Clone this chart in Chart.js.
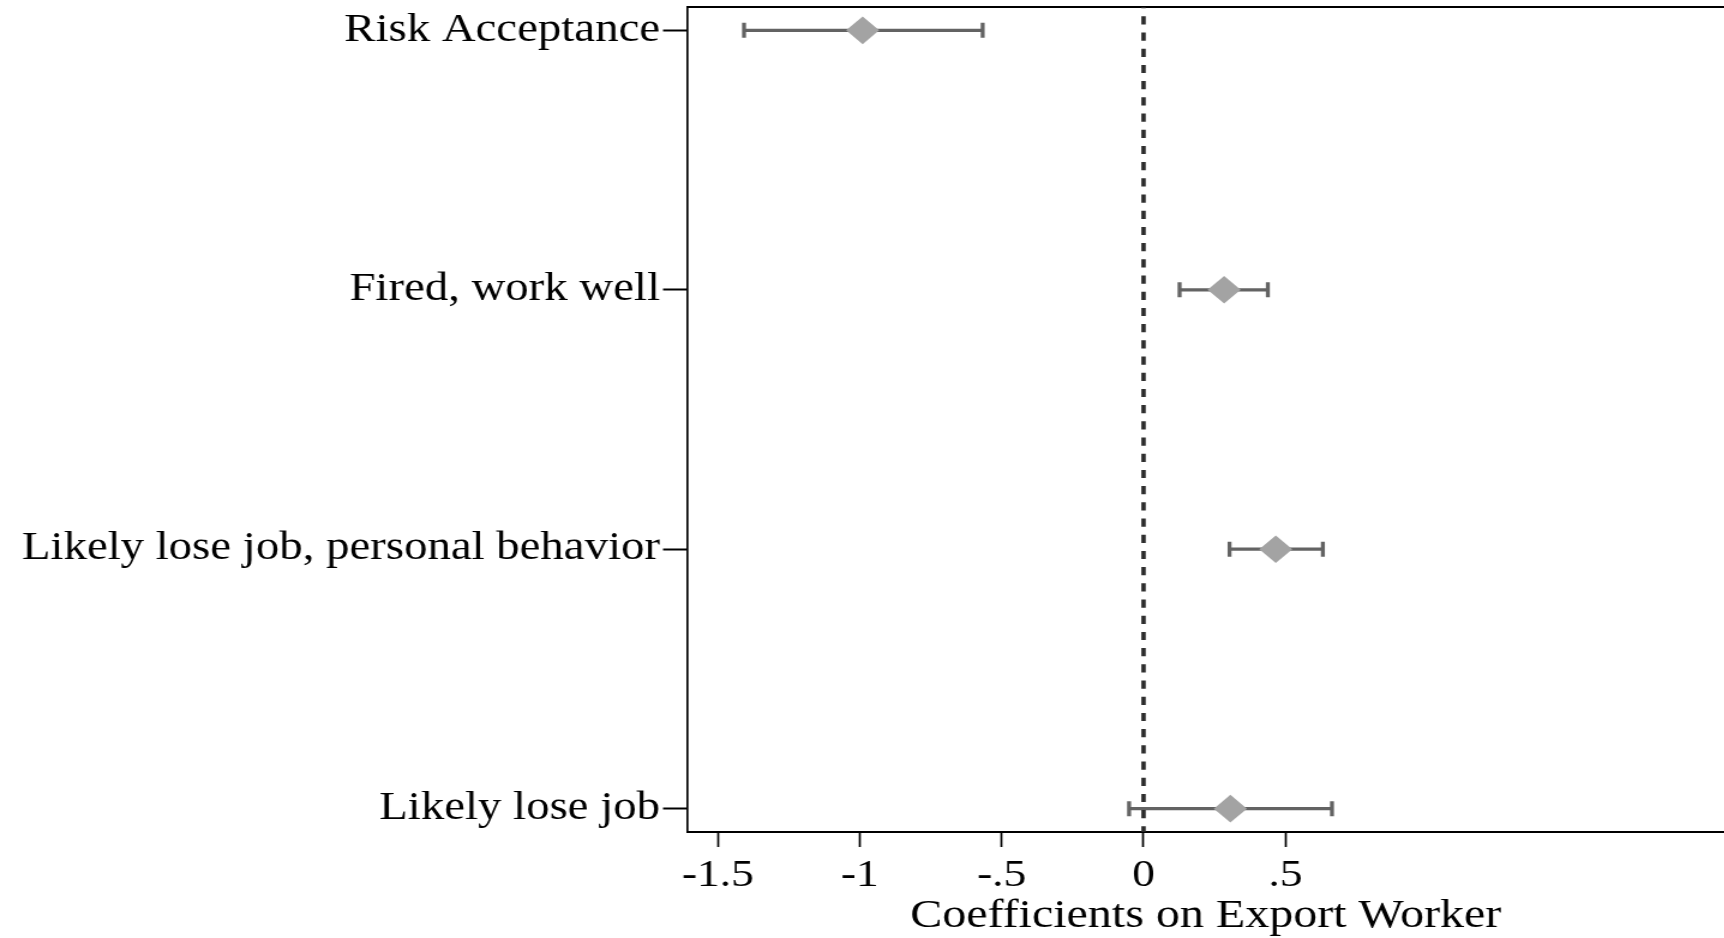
<!DOCTYPE html>
<html>
<head>
<meta charset="utf-8">
<script src="https://cdn.jsdelivr.net/npm/chart.js@4.4.1/dist/chart.umd.min.js"></script>
<style>
  html, body { margin: 0; padding: 0; background: #ffffff; overflow: hidden; }
  #wrap { width: 1437px; height: 938px; transform: scaleX(1.2); transform-origin: 0 0; }
  canvas { display: block; }
</style>
</head>
<body>
<div id="wrap"><canvas id="c" width="1437" height="938"></canvas></div>
<script>
const categories = ['Risk Acceptance', 'Fired, work well', 'Likely lose job, personal behavior', 'Likely lose job'];
const rowPos = [1, 2, 3, 4];
const coef = [-0.99, 0.284, 0.466, 0.306];
const lower = [-1.408, 0.127, 0.303, -0.051];
const upper = [-0.567, 0.438, 0.632, 0.664];
const tickValues = [-1.5, -1, -0.5, 0, 0.5];
const tickLabels = ['-1.5', '-1', '-.5', '0', '.5'];
const xMin = -1.609, xMax = 2.047;
const yMin = 0.91, yMax = 4.09;
const refValue = 0;
const axisTitle = 'Coefficients on Export Worker';

const FONT = '"Liberation Serif", "Times New Roman", serif';
const barColor = '#636363';
const markerColor = '#a3a3a3';

const datasets = [];
// diamonds (drawn on top)
datasets.push({
  type: 'scatter',
  data: coef.map((v, i) => ({ x: v, y: rowPos[i] })),
  pointStyle: 'rectRot',
  pointRadius: 13.8,
  pointBackgroundColor: markerColor,
  pointBorderWidth: 0,
  showLine: false
});
// zero reference line
datasets.push({
  type: 'line',
  data: [{ x: refValue, y: yMin }, { x: refValue, y: yMax }],
  borderColor: '#2a2a2a',
  borderWidth: 3.6,
  borderDash: [8.2, 8],
  borderDashOffset: 6.9,
  pointRadius: 0,
  fill: false
});
// confidence intervals
lower.forEach((lo, i) => {
  datasets.push({
    type: 'line',
    data: [{ x: lo, y: rowPos[i] }, { x: upper[i], y: rowPos[i] }],
    borderColor: barColor,
    borderWidth: 3.3,
    pointStyle: 'line',
    rotation: 90,
    pointRadius: 7.5,
    pointBorderColor: barColor,
    pointBorderWidth: 3.3,
    fill: false
  });
});

function zeroPad(s) {
  s.paddingTop = 0; s.paddingBottom = 0; s.paddingLeft = 0; s.paddingRight = 0;
}

new Chart(document.getElementById('c'), {
  data: { datasets },
  options: {
    responsive: false,
    devicePixelRatio: 1,
    animation: false,
    layout: { padding: 0, autoPadding: false },
    plugins: { legend: { display: false }, tooltip: { enabled: false } },
    scales: {
      x: {
        type: 'linear',
        position: 'bottom',
        min: xMin, max: xMax,
        afterBuildTicks: s => { s.ticks = tickValues.map(v => ({ value: v })); },
        afterFit: s => { s.height = 106; zeroPad(s); },
        grid: { drawOnChartArea: false, drawTicks: true, tickLength: 15, tickWidth: 1.7, tickColor: '#000' },
        border: { display: true, color: '#000', width: 2 },
        ticks: {
          padding: 6,
          maxRotation: 0,
          autoSkip: false,
          color: '#000',
          font: { family: FONT, size: 38 },
          callback: (v, i) => tickLabels[i]
        },
        title: {
          display: true,
          text: axisTitle,
          color: '#000',
          font: { family: FONT, size: 40, lineHeight: 1.1 },
          padding: { top: 0, bottom: 0 }
        }
      },
      x2: {
        type: 'linear',
        position: 'top',
        min: xMin, max: xMax,
        afterFit: s => { s.height = 7; zeroPad(s); },
        grid: { drawOnChartArea: false, drawTicks: false },
        border: { display: true, color: '#000', width: 2 },
        ticks: { display: false }
      },
      y: {
        type: 'linear',
        position: 'left',
        reverse: true,
        min: yMin, max: yMax,
        afterBuildTicks: s => { s.ticks = rowPos.map(v => ({ value: v })); },
        afterFit: s => { s.width = 572.5; zeroPad(s); },
        grid: { drawOnChartArea: false, drawTicks: true, tickLength: 20, tickWidth: 2, tickColor: '#000' },
        border: { display: true, color: '#000', width: 1.7 },
        ticks: {
          padding: 2.5,
          autoSkip: false,
          color: '#000',
          font: { family: FONT, size: 39 },
          callback: (v, i) => categories[i]
        }
      }
    }
  }
});
</script>
</body>
</html>
